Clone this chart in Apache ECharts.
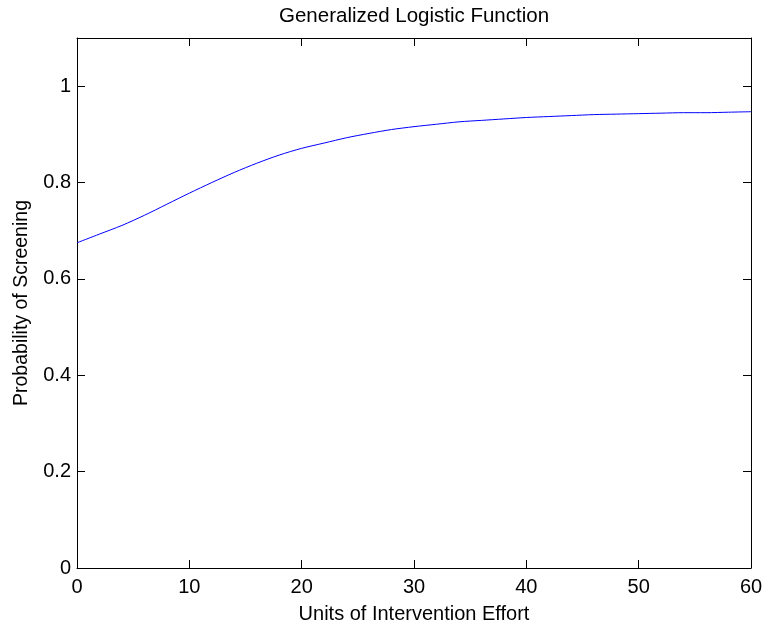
<!DOCTYPE html>
<html>
<head>
<meta charset="utf-8">
<script src="https://cdn.jsdelivr.net/npm/echarts@6/dist/echarts.min.js"></script>
<style>html,body{margin:0;padding:0;background:#fff;}#c{width:765px;height:626px;}</style>
</head>
<body>
<div id="c"></div>
<script>
var effort = [0,2,4,6,8,10,12,14,16,18,20,22,24,26,28,30,32,34,36,38,40,42,44,46,48,50,52,54,56,58,60];
var probability = [0.675,0.693,0.711,0.732,0.755,0.778,0.800,0.821,0.840,0.857,0.871,0.882,0.893,0.902,0.910,0.916,0.921,0.926,0.929,0.932,0.935,0.937,0.939,0.941,0.942,0.943,0.944,0.945,0.945,0.946,0.947];
var yTicks = [0,0.2,0.4,0.6,0.8,1];
var xTicks = [0,10,20,30,40,50,60];

var FONT = "'Liberation Sans', Arial, Helvetica, sans-serif";
var points = effort.map(function(x,i){return [x, probability[i]];});

function yLabel(v){
  for (var i=0;i<yTicks.length;i++){ if (Math.abs(v-yTicks[i])<1e-6) return String(yTicks[i]); }
  return '';
}
var tickStyle = {show:true, inside:true, length:8, lineStyle:{color:'#000', width:1}};
var chart = echarts.init(document.getElementById('c'), null, {renderer:'canvas'});
chart.setOption({
  backgroundColor:'#fff',
  animation:false,
  title:{text:'Generalized Logistic Function', left:274, top:1,
    textStyle:{fontFamily:FONT, fontSize:20.5, fontWeight:'normal', color:'#000'}},
  grid:{left:77, right:14, top:38, bottom:58, outerBoundsMode:'none', containLabel:false},
  xAxis:[{
    type:'value', min:0, max:60, interval:10, position:'bottom',
    name:'Units of Intervention Effort', nameLocation:'middle', nameGap:36,
    nameTextStyle:{fontFamily:FONT, fontSize:20, color:'#000'},
    axisLine:{show:true, onZero:false, lineStyle:{color:'#000', width:1}},
    axisTick:tickStyle,
    axisLabel:{fontFamily:FONT, fontSize:20, color:'#000', margin:9},
    splitLine:{show:false}
  },{
    type:'value', min:0, max:60, interval:10, position:'top',
    axisLine:{show:true, onZero:false, lineStyle:{color:'#000', width:1}},
    axisTick:tickStyle, axisLabel:{show:false}, splitLine:{show:false}
  }],
  yAxis:[{
    type:'value', min:0, max:1.1, interval:0.2, position:'left',
    name:'Probability of Screening', nameLocation:'middle', nameGap:45,
    nameTextStyle:{fontFamily:FONT, fontSize:19.5, color:'#000'},
    axisLine:{show:true, onZero:false, lineStyle:{color:'#000', width:1}},
    axisTick:tickStyle,
    axisLabel:{fontFamily:FONT, fontSize:20, color:'#000', margin:6, formatter:yLabel},
    splitLine:{show:false}
  },{
    type:'value', min:0, max:1.1, interval:0.2, position:'right',
    axisLine:{show:true, onZero:false, lineStyle:{color:'#000', width:1}},
    axisTick:tickStyle, axisLabel:{show:false}, splitLine:{show:false}
  }],
  series:[{
    type:'line', data:points, xAxisIndex:0, yAxisIndex:0,
    smooth:0.3, showSymbol:false, symbol:'none',
    lineStyle:{color:'#0000ff', width:1}
  }]
});
</script>
</body>
</html>
